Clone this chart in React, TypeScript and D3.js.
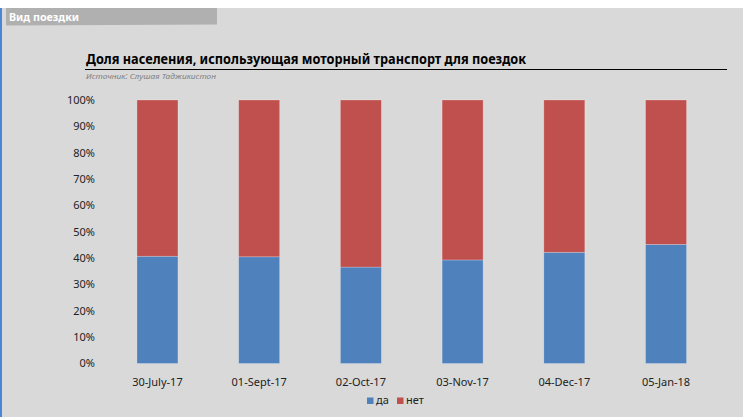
import React from "react";
import * as d3 from "d3";

const categories = ["30-July-17", "01-Sept-17", "02-Oct-17", "03-Nov-17", "04-Dec-17", "05-Jan-18"];
const yesValues = [40.7, 40.5, 36.6, 39.3, 42.2, 45.2];
const noValues = yesValues.map((v) => 100 - v);
const seriesNames = ["да", "нет"];
const seriesColors = ["#4f81bd", "#c0504d"];
const yTicks = [0, 10, 20, 30, 40, 50, 60, 70, 80, 90, 100];

const W = 743;
const H = 417;
const FONT = "'Noto Sans', 'DejaVu Sans', sans-serif";

export default function App() {
  const x = d3.scaleBand<string>().domain(categories).range([106.6, 716.9]).paddingInner(0.597).paddingOuter(0.2985);
  const y = d3.scaleLinear().domain([0, 100]).range([363.5, 100]);
  const rows = categories.map((c, i) => ({ cat: c, yes: yesValues[i], no: noValues[i] }));
  const stack = d3.stack<any>().keys(["yes", "no"])(rows);

  return (
    <svg width={W} height={H} style={{ position: "absolute", left: 0, top: 0 }} fontFamily={FONT}>
      <rect x={0} y={0} width={W} height={H} fill="#ffffff" />
      <rect x={0} y={8} width={W} height={H - 8} fill="#d9d9d9" />
      <rect x={0} y={8} width={2} height={H - 8} fill="#4a86d8" />
      <polygon points="6,8 217,8 217,24.5 6,25.5" fill="#b0b0b0" />
      <text x={9} y={21} fill="#ffffff" fontSize={11} fontWeight="bold" textLength={70} lengthAdjust="spacingAndGlyphs">Вид поездки</text>

      <text x={86} y={64} fill="#000" fontSize={14} fontWeight="bold" textLength={440} lengthAdjust="spacingAndGlyphs">Доля населения, использующая моторный транспорт для поездок</text>
      <line x1={85} x2={727} y1={69.5} y2={69.5} stroke="#000" strokeWidth={1.2} />
      <text x={86} y={78.5} fill="#808080" fontSize={8} fontStyle="italic" textLength={130} lengthAdjust="spacingAndGlyphs">Источник: Слушая Таджикистон</text>

      {yTicks.map((t) => (
        <text key={t} x={95} y={y(t)} dy="0.35em" textAnchor="end" fontSize={11} fill="#222">{t}%</text>
      ))}

      {stack.map((s, si) => (
        <g key={si}>
          {s.map((d: any, i: number) => (
            <rect
              key={i}
              x={x(categories[i])!}
              width={x.bandwidth()}
              y={y(d[1])}
              height={y(d[0]) - y(d[1])}
              fill={seriesColors[si]}
              stroke="#ffffff"
              strokeOpacity={0.3}
              strokeWidth={0.75}
            />
          ))}
        </g>
      ))}

      {categories.map((c) => (
        <text key={c} x={x(c)! + x.bandwidth() / 2} y={386} textAnchor="middle" fontSize={11} fill="#222">{c}</text>
      ))}

      {seriesNames.map((n, i) => (
        <g key={n} transform={`translate(${i === 0 ? 367 : 397},397.5)`}>
          <rect x={0} y={0} width={6.5} height={6.5} fill={seriesColors[i]} />
          <text x={9} y={6.5} fontSize={11} fill="#222">{n}</text>
        </g>
      ))}
    </svg>
  );
}
